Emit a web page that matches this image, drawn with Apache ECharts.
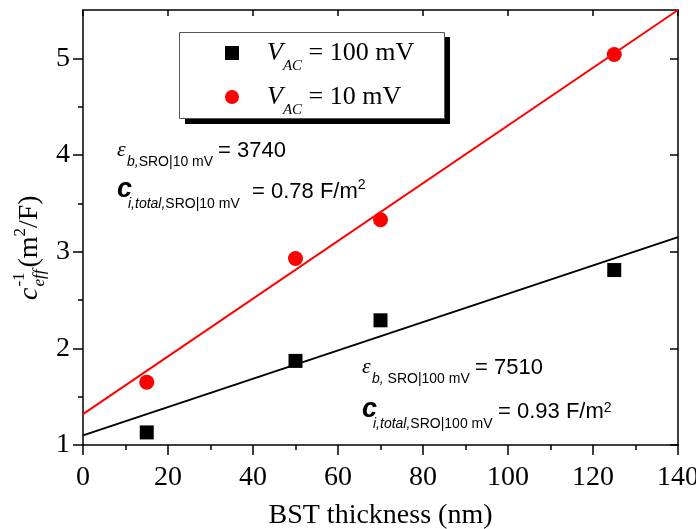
<!DOCTYPE html>
<html><head><meta charset="utf-8">
<script src="https://cdn.jsdelivr.net/npm/echarts@6/dist/echarts.min.js"></script>
<style>html,body{margin:0;padding:0;background:#fff}#c{width:696px;height:529px}</style>
</head><body><div id="c"></div>
<script>
// ---- data ----
const thickness = [15, 50, 70, 125];           // BST thickness (nm)
const cinv100mV = [1.13, 1.87, 2.29, 2.81];    // c_eff^-1 at V_AC = 100 mV
const cinv10mV  = [1.65, 2.93, 3.33, 5.04];    // c_eff^-1 at V_AC = 10 mV
const fitX      = [0, 140];                    // fit line end points (x)
const fit100mV  = [1.10, 3.15];                // linear fit, 100 mV
const fit10mV   = [1.32, 5.50];                // linear fit, 10 mV
const yMajor    = [1, 2, 3, 4, 5];             // y tick labels
const yMinor    = [1.5, 2.5, 3.5, 4.5];
const seriesNames = ['V_AC = 100 mV', 'V_AC = 10 mV'];
const legendVals  = ['100 mV', '10 mV'];

const serif = 'Liberation Serif', sans = 'Liberation Sans';
const ctx = document.createElement('canvas').getContext('2d');
function measure(str, fs, family, italic, bold) {
  ctx.font = (italic ? 'italic ' : '') + (bold ? 'bold ' : '') + fs + 'px "' + family + '"';
  return ctx.measureText(str).width;
}
function piece(x, base, text, fs, o) {
  o = o || {};
  return { type: 'text', x: x, y: base - 0.31 * fs, silent: true, z: 10,
    style: { text: text, fontSize: fs, fontFamily: o.family || sans,
      fontStyle: o.italic ? 'italic' : 'normal', fontWeight: o.bold ? 'bold' : 'normal',
      fill: '#000', align: 'left', verticalAlign: 'middle' } };
}
function annotation(x, b1, b2, sub1, val1, sub2Mode, val2, eqX1, eqX2, supUp) {
  const els = [];
  els.push(piece(x, b1, '\u03b5', 22, { family: serif, italic: true }));
  const bPart = sub1[0], rest1 = sub1[1];
  els.push(piece(x + 10, b1 + 9, bPart, 14, { italic: true }));
  els.push(piece(x + 10 + measure(bPart, 14, sans, true), b1 + 9, rest1, 14));
  els.push(piece(eqX1, b1 + 1, val1, 22));
  els.push(piece(x, b2, 'c', 27, { italic: true, bold: true }));
  els.push(piece(x + 11, b2 + 10, 'i,total,', 14, { italic: true }));
  els.push(piece(x + 11 + measure('i,total,', 14, sans, true), b2 + 10, sub2Mode, 14));
  els.push(piece(eqX2, b2 + 1, val2, 22));
  els.push(piece(eqX2 + measure(val2, 22, sans), b2 + 1 - supUp, '2', 14));
  return els;
}
const graphics = []
  .concat(annotation(117, 157, 198, ['b,', 'SRO|10 mV'], '= 3740', 'SRO|10 mV', '= 0.78 F/m', 218, 252, 10))
  .concat(annotation(362, 374, 418, ['b,', ' SRO|100 mV'], '= 7510', 'SRO|100 mV', '= 0.93 F/m', 475, 498, 7));

// legend frame with hard black drop shadow
graphics.push({ type: 'rect', z: 1, silent: true, shape: { x: 185, y: 37, width: 265, height: 87 }, style: { fill: '#000' } });
graphics.push({ type: 'rect', z: 2, silent: true, shape: { x: 179.5, y: 32.5, width: 265, height: 86 }, style: { fill: '#fff', stroke: '#555', lineWidth: 1 } });

// rotated y-axis title: c_eff^-1 (m^2/F)
(function () {
  const ch = [];
  let lx = 0;
  ch.push(piece(0, 0, 'c', 28, { family: serif, italic: true }));
  lx = measure('c', 28, serif, true) + 1;
  ch.push(piece(lx, -13, '-1', 17, { family: serif }));
  ch.push(piece(lx, 7, 'eff', 17, { family: serif, italic: true }));
  lx += measure('eff', 17, serif, true) + 2;
  ch.push(piece(lx, 0, '(m', 28, { family: serif }));
  lx += measure('(m', 28, serif);
  ch.push(piece(lx, -12, '2', 17, { family: serif }));
  lx += measure('2', 17, serif);
  ch.push(piece(lx, 0, '/F)', 28, { family: serif }));
  graphics.push({ type: 'group', x: 38, y: 300, rotation: Math.PI / 2, children: ch });
})();

const ls = { color: '#000', width: 1.5 };
const option = {
  animation: false,
  backgroundColor: '#fff',
  grid: { left: 83, right: 18, top: 10, bottom: 84, containLabel: false, outerBoundsMode: 'none' },
  legend: {
    data: seriesNames, orient: 'vertical', left: 225, top: 40, z: 20,
    padding: 0, itemGap: 10, itemWidth: 14, itemHeight: 14,
    selectedMode: false,
    formatter: function (name) {
      const i = seriesNames.indexOf(name);
      return '{g| }{v|V}{s|AC}{t| = ' + legendVals[i] + '}';
    },
    textStyle: {
      color: '#000',
      rich: {
        g: { width: 23, fontSize: 26, verticalAlign: 'top', padding: [8, 0, 8, 0] },
        v: { fontFamily: serif, fontStyle: 'italic', fontSize: 26, verticalAlign: 'top', padding: [8, 0, 8, 0] },
        s: { fontFamily: serif, fontStyle: 'italic', fontSize: 15, verticalAlign: 'top', padding: [27, 0, 0, 0] },
        t: { fontFamily: serif, fontSize: 26, verticalAlign: 'top', padding: [8, 0, 8, 0] }
      }
    }
  },
  xAxis: [
    { type: 'value', position: 'bottom', min: 0, max: 140, interval: 20,
      axisLine: { show: true, onZero: false, lineStyle: ls },
      axisTick: { show: true, inside: false, length: 10, lineStyle: ls },
      minorTick: { show: true, splitNumber: 2, length: 5, lineStyle: ls },
      axisLabel: { fontFamily: serif, fontSize: 28, color: '#000', margin: 19 },
      splitLine: { show: false },
      name: 'BST thickness (nm)', nameLocation: 'middle', nameGap: 57,
      nameTextStyle: { fontFamily: serif, fontSize: 28, color: '#000' } },
    { type: 'value', position: 'top', min: 0, max: 140, interval: 20,
      axisLine: { show: true, onZero: false, lineStyle: ls },
      axisTick: { show: true, inside: true, length: 6, lineStyle: ls },
      axisLabel: { show: false }, splitLine: { show: false } }
  ],
  yAxis: [
    { type: 'value', position: 'left', min: 1, max: 5.5,
      axisLine: { show: true, onZero: false, lineStyle: ls },
      axisTick: { show: true, inside: false, length: 10, lineStyle: ls, customValues: yMajor },
      axisLabel: { customValues: yMajor, fontFamily: serif, fontSize: 28, color: '#000', margin: 13 },
      splitLine: { show: false } },
    { type: 'value', position: 'left', min: 1, max: 5.5,
      axisLine: { show: false },
      axisTick: { show: true, inside: false, length: 5, lineStyle: ls, customValues: yMinor },
      axisLabel: { show: false }, splitLine: { show: false } },
    { type: 'value', position: 'right', min: 1, max: 5.5,
      axisLine: { show: true, onZero: false, lineStyle: ls },
      axisTick: { show: true, inside: true, length: 8, lineStyle: ls, customValues: yMajor },
      axisLabel: { show: false }, splitLine: { show: false } }
  ],
  series: [
    { type: 'line', data: fitX.map((x, i) => [x, fit100mV[i]]), symbol: 'none',
      lineStyle: { color: '#000', width: 2 }, z: 2, silent: true },
    { type: 'line', data: fitX.map((x, i) => [x, fit10mV[i]]), symbol: 'none',
      lineStyle: { color: '#ff0000', width: 2 }, z: 2, silent: true },
    { type: 'scatter', name: seriesNames[0], data: thickness.map((x, i) => [x, cinv100mV[i]]),
      symbol: 'rect', symbolSize: 14, itemStyle: { color: '#000', opacity: 1 }, z: 3 },
    { type: 'scatter', name: seriesNames[1], data: thickness.map((x, i) => [x, cinv10mV[i]]),
      symbol: 'circle', symbolSize: 15, itemStyle: { color: '#ff0000', opacity: 1 }, z: 3 }
  ],
  graphic: graphics
};
const chart = echarts.init(document.getElementById('c'), null, { renderer: 'canvas' });
chart.setOption(option);
</script></body></html>
